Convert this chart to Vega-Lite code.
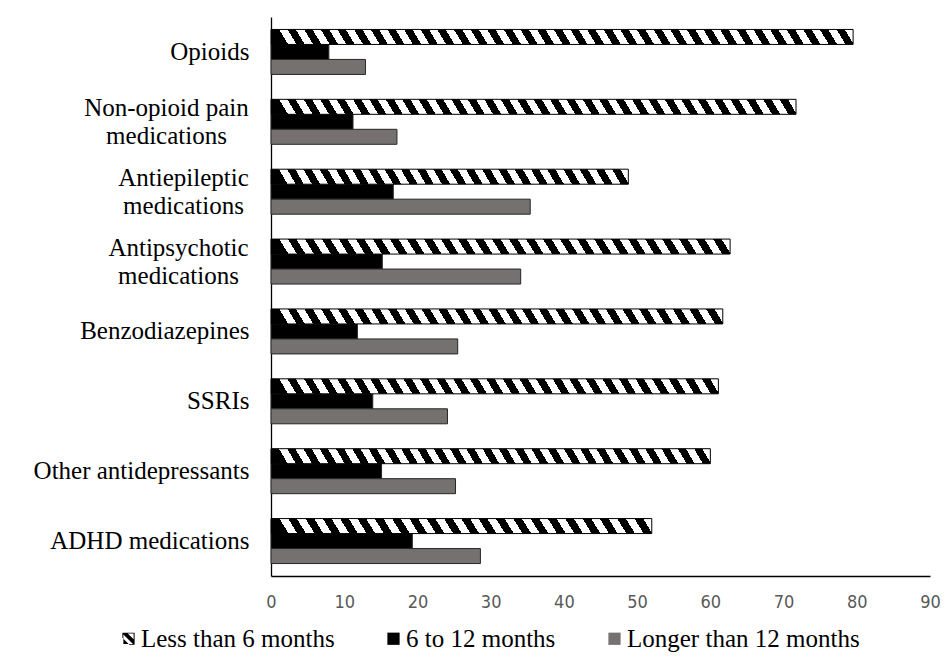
{
  "$schema": "https://vega.github.io/schema/vega-lite/v6.json",
  "width": 659,
  "height": 559,
  "autosize": {"type": "none"},
  "padding": {"left": 271, "top": 17, "right": 19, "bottom": 87},
  "background": "white",
  "config": {
    "view": {"stroke": null},
    "font": "Liberation Serif",
    "legend": {
      "orient": "none", "legendX": -155, "legendY": 609, "direction": "horizontal",
      "labelFont": "Liberation Serif", "labelFontSize": 25, "labelColor": "#000000",
      "symbolSize": 150, "symbolStrokeColor": "#000000", "symbolStrokeWidth": 0.6, "symbolOpacity": 1,
      "labelOffset": 0, "columnPadding": 46, "labelLimit": 400
    }
  },
  "data": {"values": [
    {"category": "Opioids", "period": "Less than 6 months", "value": 79.5},
    {"category": "Opioids", "period": "6 to 12 months", "value": 7.9},
    {"category": "Opioids", "period": "Longer than 12 months", "value": 12.9},
    {"category": "Non-opioid pain medications", "period": "Less than 6 months", "value": 71.7},
    {"category": "Non-opioid pain medications", "period": "6 to 12 months", "value": 11.2},
    {"category": "Non-opioid pain medications", "period": "Longer than 12 months", "value": 17.2},
    {"category": "Antiepileptic medications", "period": "Less than 6 months", "value": 48.8},
    {"category": "Antiepileptic medications", "period": "6 to 12 months", "value": 16.7},
    {"category": "Antiepileptic medications", "period": "Longer than 12 months", "value": 35.4},
    {"category": "Antipsychotic medications", "period": "Less than 6 months", "value": 62.7},
    {"category": "Antipsychotic medications", "period": "6 to 12 months", "value": 15.2},
    {"category": "Antipsychotic medications", "period": "Longer than 12 months", "value": 34.1},
    {"category": "Benzodiazepines", "period": "Less than 6 months", "value": 61.7},
    {"category": "Benzodiazepines", "period": "6 to 12 months", "value": 11.8},
    {"category": "Benzodiazepines", "period": "Longer than 12 months", "value": 25.5},
    {"category": "SSRIs", "period": "Less than 6 months", "value": 61.1},
    {"category": "SSRIs", "period": "6 to 12 months", "value": 13.9},
    {"category": "SSRIs", "period": "Longer than 12 months", "value": 24.1},
    {"category": "Other antidepressants", "period": "Less than 6 months", "value": 60.0},
    {"category": "Other antidepressants", "period": "6 to 12 months", "value": 15.1},
    {"category": "Other antidepressants", "period": "Longer than 12 months", "value": 25.2},
    {"category": "ADHD medications", "period": "Less than 6 months", "value": 52.0},
    {"category": "ADHD medications", "period": "6 to 12 months", "value": 19.3},
    {"category": "ADHD medications", "period": "Longer than 12 months", "value": 28.6}
  ]},
  "encoding": {
    "y": {
      "field": "category", "type": "nominal",
      "scale": {
        "domain": ["Opioids", "Non-opioid pain medications", "Antiepileptic medications", "Antipsychotic medications", "Benzodiazepines", "SSRIs", "Other antidepressants", "ADHD medications"],
        "paddingInner": 0.356, "paddingOuter": 0.178
      },
      "axis": {
        "title": null, "ticks": false, "grid": false,
        "domainColor": "#000000", "domainWidth": 1.3,
        "labelFont": "Liberation Serif", "labelFontSize": 25, "labelColor": "#000000",
        "labelLimit": 400, "labelLineHeight": 28,
        "labelAlign": {"condition": {"test": "indexof(['Non-opioid pain medications', 'Antiepileptic medications', 'Antipsychotic medications'], datum.value) >= 0", "value": "center"}, "value": "right"},
        "labelPadding": {"condition": [
          {"test": "datum.value == 'Non-opioid pain medications'", "value": 105},
          {"test": "datum.value == 'Antiepileptic medications'", "value": 88},
          {"test": "datum.value == 'Antipsychotic medications'", "value": 93}
        ], "value": 22},
        "labelOffset": {"condition": {"test": "indexof(['Non-opioid pain medications', 'Antiepileptic medications', 'Antipsychotic medications'], datum.value) >= 0", "value": -14}, "value": 0},
        "labelExpr": "datum.value == 'Non-opioid pain medications' ? ['Non-opioid pain', 'medications'] : datum.value == 'Antiepileptic medications' ? ['Antiepileptic', 'medications'] : datum.value == 'Antipsychotic medications' ? ['Antipsychotic', 'medications'] : datum.label"
      }
    },
    "yOffset": {
      "field": "period", "type": "nominal",
      "scale": {"domain": ["Less than 6 months", "6 to 12 months", "Longer than 12 months"], "paddingInner": 0, "paddingOuter": 0}
    },
    "x": {
      "field": "value", "type": "quantitative",
      "scale": {"domain": [0, 90], "nice": false},
      "axis": {
        "title": null, "values": [0, 10, 20, 30, 40, 50, 60, 70, 80, 90],
        "grid": false, "ticks": false, "labelFlush": false,
        "domainColor": "#000000", "domainWidth": 1.5,
        "labelFont": "Liberation Sans Narrow, DejaVu Sans Condensed, sans-serif",
        "labelFontSize": 18, "labelColor": "#595959", "labelPadding": 17
      }
    }
  },
  "layer": [
    {
      "transform": [{"filter": "datum.period != 'Less than 6 months'"}],
      "mark": {"type": "bar", "stroke": "#262626", "strokeWidth": 1},
      "encoding": {
        "fill": {
          "field": "period", "type": "nominal",
          "scale": {
            "domain": ["Less than 6 months", "6 to 12 months", "Longer than 12 months"],
            "range": ["#000000", "#000000", "#767171"]
          },
          "legend": {"title": null}
        }
      }
    },
    {
      "transform": [{"filter": "datum.period == 'Less than 6 months' && datum.category == 'Opioids'"}],
      "mark": {"type": "bar", "stroke": "#000000", "strokeWidth": 1, "fill": {"gradient": "linear", "x1": 0, "y1": 0.0155, "x2": 1, "y2": 0, "stops": [
        {"offset":0,"color":"#000"},{"offset":0.01429,"color":"#000"},{"offset":0.01429,"color":"#fff"},{"offset":0.02857,"color":"#fff"},
        {"offset":0.02857,"color":"#000"},{"offset":0.04286,"color":"#000"},{"offset":0.04286,"color":"#fff"},{"offset":0.05714,"color":"#fff"},
        {"offset":0.05714,"color":"#000"},{"offset":0.07143,"color":"#000"},{"offset":0.07143,"color":"#fff"},{"offset":0.08571,"color":"#fff"},
        {"offset":0.08571,"color":"#000"},{"offset":0.1,"color":"#000"},{"offset":0.1,"color":"#fff"},{"offset":0.11429,"color":"#fff"},
        {"offset":0.11429,"color":"#000"},{"offset":0.12857,"color":"#000"},{"offset":0.12857,"color":"#fff"},{"offset":0.14286,"color":"#fff"},
        {"offset":0.14286,"color":"#000"},{"offset":0.15714,"color":"#000"},{"offset":0.15714,"color":"#fff"},{"offset":0.17143,"color":"#fff"},
        {"offset":0.17143,"color":"#000"},{"offset":0.18571,"color":"#000"},{"offset":0.18571,"color":"#fff"},{"offset":0.2,"color":"#fff"},
        {"offset":0.2,"color":"#000"},{"offset":0.21429,"color":"#000"},{"offset":0.21429,"color":"#fff"},{"offset":0.22857,"color":"#fff"},
        {"offset":0.22857,"color":"#000"},{"offset":0.24286,"color":"#000"},{"offset":0.24286,"color":"#fff"},{"offset":0.25714,"color":"#fff"},
        {"offset":0.25714,"color":"#000"},{"offset":0.27143,"color":"#000"},{"offset":0.27143,"color":"#fff"},{"offset":0.28571,"color":"#fff"},
        {"offset":0.28571,"color":"#000"},{"offset":0.3,"color":"#000"},{"offset":0.3,"color":"#fff"},{"offset":0.31429,"color":"#fff"},
        {"offset":0.31429,"color":"#000"},{"offset":0.32857,"color":"#000"},{"offset":0.32857,"color":"#fff"},{"offset":0.34286,"color":"#fff"},
        {"offset":0.34286,"color":"#000"},{"offset":0.35714,"color":"#000"},{"offset":0.35714,"color":"#fff"},{"offset":0.37143,"color":"#fff"},
        {"offset":0.37143,"color":"#000"},{"offset":0.38571,"color":"#000"},{"offset":0.38571,"color":"#fff"},{"offset":0.4,"color":"#fff"},
        {"offset":0.4,"color":"#000"},{"offset":0.41429,"color":"#000"},{"offset":0.41429,"color":"#fff"},{"offset":0.42857,"color":"#fff"},
        {"offset":0.42857,"color":"#000"},{"offset":0.44286,"color":"#000"},{"offset":0.44286,"color":"#fff"},{"offset":0.45714,"color":"#fff"},
        {"offset":0.45714,"color":"#000"},{"offset":0.47143,"color":"#000"},{"offset":0.47143,"color":"#fff"},{"offset":0.48571,"color":"#fff"},
        {"offset":0.48571,"color":"#000"},{"offset":0.5,"color":"#000"},{"offset":0.5,"color":"#fff"},{"offset":0.51429,"color":"#fff"},
        {"offset":0.51429,"color":"#000"},{"offset":0.52857,"color":"#000"},{"offset":0.52857,"color":"#fff"},{"offset":0.54286,"color":"#fff"},
        {"offset":0.54286,"color":"#000"},{"offset":0.55714,"color":"#000"},{"offset":0.55714,"color":"#fff"},{"offset":0.57143,"color":"#fff"},
        {"offset":0.57143,"color":"#000"},{"offset":0.58571,"color":"#000"},{"offset":0.58571,"color":"#fff"},{"offset":0.6,"color":"#fff"},
        {"offset":0.6,"color":"#000"},{"offset":0.61429,"color":"#000"},{"offset":0.61429,"color":"#fff"},{"offset":0.62857,"color":"#fff"},
        {"offset":0.62857,"color":"#000"},{"offset":0.64286,"color":"#000"},{"offset":0.64286,"color":"#fff"},{"offset":0.65714,"color":"#fff"},
        {"offset":0.65714,"color":"#000"},{"offset":0.67143,"color":"#000"},{"offset":0.67143,"color":"#fff"},{"offset":0.68571,"color":"#fff"},
        {"offset":0.68571,"color":"#000"},{"offset":0.7,"color":"#000"},{"offset":0.7,"color":"#fff"},{"offset":0.71429,"color":"#fff"},
        {"offset":0.71429,"color":"#000"},{"offset":0.72857,"color":"#000"},{"offset":0.72857,"color":"#fff"},{"offset":0.74286,"color":"#fff"},
        {"offset":0.74286,"color":"#000"},{"offset":0.75714,"color":"#000"},{"offset":0.75714,"color":"#fff"},{"offset":0.77143,"color":"#fff"},
        {"offset":0.77143,"color":"#000"},{"offset":0.78571,"color":"#000"},{"offset":0.78571,"color":"#fff"},{"offset":0.8,"color":"#fff"},
        {"offset":0.8,"color":"#000"},{"offset":0.81429,"color":"#000"},{"offset":0.81429,"color":"#fff"},{"offset":0.82857,"color":"#fff"},
        {"offset":0.82857,"color":"#000"},{"offset":0.84286,"color":"#000"},{"offset":0.84286,"color":"#fff"},{"offset":0.85714,"color":"#fff"},
        {"offset":0.85714,"color":"#000"},{"offset":0.87143,"color":"#000"},{"offset":0.87143,"color":"#fff"},{"offset":0.88571,"color":"#fff"},
        {"offset":0.88571,"color":"#000"},{"offset":0.9,"color":"#000"},{"offset":0.9,"color":"#fff"},{"offset":0.91429,"color":"#fff"},
        {"offset":0.91429,"color":"#000"},{"offset":0.92857,"color":"#000"},{"offset":0.92857,"color":"#fff"},{"offset":0.94286,"color":"#fff"},
        {"offset":0.94286,"color":"#000"},{"offset":0.95714,"color":"#000"},{"offset":0.95714,"color":"#fff"},{"offset":0.97143,"color":"#fff"},
        {"offset":0.97143,"color":"#000"},{"offset":0.98571,"color":"#000"},{"offset":0.98571,"color":"#fff"},{"offset":1,"color":"#fff"}
      ]}}
    },
    {
      "transform": [{"filter": "datum.period == 'Less than 6 months' && datum.category == 'Non-opioid pain medications'"}],
      "mark": {"type": "bar", "stroke": "#000000", "strokeWidth": 1, "fill": {"gradient": "linear", "x1": 0, "y1": 0.0171, "x2": 1, "y2": 0, "stops": [
        {"offset":0,"color":"#000"},{"offset":0.015625,"color":"#000"},{"offset":0.015625,"color":"#fff"},{"offset":0.03125,"color":"#fff"},
        {"offset":0.03125,"color":"#000"},{"offset":0.046875,"color":"#000"},{"offset":0.046875,"color":"#fff"},{"offset":0.0625,"color":"#fff"},
        {"offset":0.0625,"color":"#000"},{"offset":0.078125,"color":"#000"},{"offset":0.078125,"color":"#fff"},{"offset":0.09375,"color":"#fff"},
        {"offset":0.09375,"color":"#000"},{"offset":0.109375,"color":"#000"},{"offset":0.109375,"color":"#fff"},{"offset":0.125,"color":"#fff"},
        {"offset":0.125,"color":"#000"},{"offset":0.140625,"color":"#000"},{"offset":0.140625,"color":"#fff"},{"offset":0.15625,"color":"#fff"},
        {"offset":0.15625,"color":"#000"},{"offset":0.171875,"color":"#000"},{"offset":0.171875,"color":"#fff"},{"offset":0.1875,"color":"#fff"},
        {"offset":0.1875,"color":"#000"},{"offset":0.203125,"color":"#000"},{"offset":0.203125,"color":"#fff"},{"offset":0.21875,"color":"#fff"},
        {"offset":0.21875,"color":"#000"},{"offset":0.234375,"color":"#000"},{"offset":0.234375,"color":"#fff"},{"offset":0.25,"color":"#fff"},
        {"offset":0.25,"color":"#000"},{"offset":0.265625,"color":"#000"},{"offset":0.265625,"color":"#fff"},{"offset":0.28125,"color":"#fff"},
        {"offset":0.28125,"color":"#000"},{"offset":0.296875,"color":"#000"},{"offset":0.296875,"color":"#fff"},{"offset":0.3125,"color":"#fff"},
        {"offset":0.3125,"color":"#000"},{"offset":0.328125,"color":"#000"},{"offset":0.328125,"color":"#fff"},{"offset":0.34375,"color":"#fff"},
        {"offset":0.34375,"color":"#000"},{"offset":0.359375,"color":"#000"},{"offset":0.359375,"color":"#fff"},{"offset":0.375,"color":"#fff"},
        {"offset":0.375,"color":"#000"},{"offset":0.390625,"color":"#000"},{"offset":0.390625,"color":"#fff"},{"offset":0.40625,"color":"#fff"},
        {"offset":0.40625,"color":"#000"},{"offset":0.421875,"color":"#000"},{"offset":0.421875,"color":"#fff"},{"offset":0.4375,"color":"#fff"},
        {"offset":0.4375,"color":"#000"},{"offset":0.453125,"color":"#000"},{"offset":0.453125,"color":"#fff"},{"offset":0.46875,"color":"#fff"},
        {"offset":0.46875,"color":"#000"},{"offset":0.484375,"color":"#000"},{"offset":0.484375,"color":"#fff"},{"offset":0.5,"color":"#fff"},
        {"offset":0.5,"color":"#000"},{"offset":0.515625,"color":"#000"},{"offset":0.515625,"color":"#fff"},{"offset":0.53125,"color":"#fff"},
        {"offset":0.53125,"color":"#000"},{"offset":0.546875,"color":"#000"},{"offset":0.546875,"color":"#fff"},{"offset":0.5625,"color":"#fff"},
        {"offset":0.5625,"color":"#000"},{"offset":0.578125,"color":"#000"},{"offset":0.578125,"color":"#fff"},{"offset":0.59375,"color":"#fff"},
        {"offset":0.59375,"color":"#000"},{"offset":0.609375,"color":"#000"},{"offset":0.609375,"color":"#fff"},{"offset":0.625,"color":"#fff"},
        {"offset":0.625,"color":"#000"},{"offset":0.640625,"color":"#000"},{"offset":0.640625,"color":"#fff"},{"offset":0.65625,"color":"#fff"},
        {"offset":0.65625,"color":"#000"},{"offset":0.671875,"color":"#000"},{"offset":0.671875,"color":"#fff"},{"offset":0.6875,"color":"#fff"},
        {"offset":0.6875,"color":"#000"},{"offset":0.703125,"color":"#000"},{"offset":0.703125,"color":"#fff"},{"offset":0.71875,"color":"#fff"},
        {"offset":0.71875,"color":"#000"},{"offset":0.734375,"color":"#000"},{"offset":0.734375,"color":"#fff"},{"offset":0.75,"color":"#fff"},
        {"offset":0.75,"color":"#000"},{"offset":0.765625,"color":"#000"},{"offset":0.765625,"color":"#fff"},{"offset":0.78125,"color":"#fff"},
        {"offset":0.78125,"color":"#000"},{"offset":0.796875,"color":"#000"},{"offset":0.796875,"color":"#fff"},{"offset":0.8125,"color":"#fff"},
        {"offset":0.8125,"color":"#000"},{"offset":0.828125,"color":"#000"},{"offset":0.828125,"color":"#fff"},{"offset":0.84375,"color":"#fff"},
        {"offset":0.84375,"color":"#000"},{"offset":0.859375,"color":"#000"},{"offset":0.859375,"color":"#fff"},{"offset":0.875,"color":"#fff"},
        {"offset":0.875,"color":"#000"},{"offset":0.890625,"color":"#000"},{"offset":0.890625,"color":"#fff"},{"offset":0.90625,"color":"#fff"},
        {"offset":0.90625,"color":"#000"},{"offset":0.921875,"color":"#000"},{"offset":0.921875,"color":"#fff"},{"offset":0.9375,"color":"#fff"},
        {"offset":0.9375,"color":"#000"},{"offset":0.953125,"color":"#000"},{"offset":0.953125,"color":"#fff"},{"offset":0.96875,"color":"#fff"},
        {"offset":0.96875,"color":"#000"},{"offset":0.984375,"color":"#000"},{"offset":0.984375,"color":"#fff"},{"offset":1,"color":"#fff"}
      ]}}
    },
    {
      "transform": [{"filter": {"and": [{"field": "period", "equal": "Less than 6 months"}, {"field": "category", "oneOf": ["Antipsychotic medications", "Benzodiazepines", "SSRIs", "Other antidepressants"]}]}}],
      "mark": {"type": "bar", "stroke": "#000000", "strokeWidth": 1, "fill": {"gradient": "linear", "x1": 0, "y1": 0.02, "x2": 1, "y2": 0, "stops": [
        {"offset":0,"color":"#000"},{"offset":0.01852,"color":"#000"},{"offset":0.01852,"color":"#fff"},{"offset":0.03704,"color":"#fff"},
        {"offset":0.03704,"color":"#000"},{"offset":0.05556,"color":"#000"},{"offset":0.05556,"color":"#fff"},{"offset":0.07407,"color":"#fff"},
        {"offset":0.07407,"color":"#000"},{"offset":0.09259,"color":"#000"},{"offset":0.09259,"color":"#fff"},{"offset":0.11111,"color":"#fff"},
        {"offset":0.11111,"color":"#000"},{"offset":0.12963,"color":"#000"},{"offset":0.12963,"color":"#fff"},{"offset":0.14815,"color":"#fff"},
        {"offset":0.14815,"color":"#000"},{"offset":0.16667,"color":"#000"},{"offset":0.16667,"color":"#fff"},{"offset":0.18519,"color":"#fff"},
        {"offset":0.18519,"color":"#000"},{"offset":0.2037,"color":"#000"},{"offset":0.2037,"color":"#fff"},{"offset":0.22222,"color":"#fff"},
        {"offset":0.22222,"color":"#000"},{"offset":0.24074,"color":"#000"},{"offset":0.24074,"color":"#fff"},{"offset":0.25926,"color":"#fff"},
        {"offset":0.25926,"color":"#000"},{"offset":0.27778,"color":"#000"},{"offset":0.27778,"color":"#fff"},{"offset":0.2963,"color":"#fff"},
        {"offset":0.2963,"color":"#000"},{"offset":0.31481,"color":"#000"},{"offset":0.31481,"color":"#fff"},{"offset":0.33333,"color":"#fff"},
        {"offset":0.33333,"color":"#000"},{"offset":0.35185,"color":"#000"},{"offset":0.35185,"color":"#fff"},{"offset":0.37037,"color":"#fff"},
        {"offset":0.37037,"color":"#000"},{"offset":0.38889,"color":"#000"},{"offset":0.38889,"color":"#fff"},{"offset":0.40741,"color":"#fff"},
        {"offset":0.40741,"color":"#000"},{"offset":0.42593,"color":"#000"},{"offset":0.42593,"color":"#fff"},{"offset":0.44444,"color":"#fff"},
        {"offset":0.44444,"color":"#000"},{"offset":0.46296,"color":"#000"},{"offset":0.46296,"color":"#fff"},{"offset":0.48148,"color":"#fff"},
        {"offset":0.48148,"color":"#000"},{"offset":0.5,"color":"#000"},{"offset":0.5,"color":"#fff"},{"offset":0.51852,"color":"#fff"},
        {"offset":0.51852,"color":"#000"},{"offset":0.53704,"color":"#000"},{"offset":0.53704,"color":"#fff"},{"offset":0.55556,"color":"#fff"},
        {"offset":0.55556,"color":"#000"},{"offset":0.57407,"color":"#000"},{"offset":0.57407,"color":"#fff"},{"offset":0.59259,"color":"#fff"},
        {"offset":0.59259,"color":"#000"},{"offset":0.61111,"color":"#000"},{"offset":0.61111,"color":"#fff"},{"offset":0.62963,"color":"#fff"},
        {"offset":0.62963,"color":"#000"},{"offset":0.64815,"color":"#000"},{"offset":0.64815,"color":"#fff"},{"offset":0.66667,"color":"#fff"},
        {"offset":0.66667,"color":"#000"},{"offset":0.68519,"color":"#000"},{"offset":0.68519,"color":"#fff"},{"offset":0.7037,"color":"#fff"},
        {"offset":0.7037,"color":"#000"},{"offset":0.72222,"color":"#000"},{"offset":0.72222,"color":"#fff"},{"offset":0.74074,"color":"#fff"},
        {"offset":0.74074,"color":"#000"},{"offset":0.75926,"color":"#000"},{"offset":0.75926,"color":"#fff"},{"offset":0.77778,"color":"#fff"},
        {"offset":0.77778,"color":"#000"},{"offset":0.7963,"color":"#000"},{"offset":0.7963,"color":"#fff"},{"offset":0.81481,"color":"#fff"},
        {"offset":0.81481,"color":"#000"},{"offset":0.83333,"color":"#000"},{"offset":0.83333,"color":"#fff"},{"offset":0.85185,"color":"#fff"},
        {"offset":0.85185,"color":"#000"},{"offset":0.87037,"color":"#000"},{"offset":0.87037,"color":"#fff"},{"offset":0.88889,"color":"#fff"},
        {"offset":0.88889,"color":"#000"},{"offset":0.90741,"color":"#000"},{"offset":0.90741,"color":"#fff"},{"offset":0.92593,"color":"#fff"},
        {"offset":0.92593,"color":"#000"},{"offset":0.94444,"color":"#000"},{"offset":0.94444,"color":"#fff"},{"offset":0.96296,"color":"#fff"},
        {"offset":0.96296,"color":"#000"},{"offset":0.98148,"color":"#000"},{"offset":0.98148,"color":"#fff"},{"offset":1,"color":"#fff"}
      ]}}
    },
    {
      "transform": [{"filter": {"and": [{"field": "period", "equal": "Less than 6 months"}, {"field": "category", "oneOf": ["Antiepileptic medications", "ADHD medications"]}]}}],
      "mark": {"type": "bar", "stroke": "#000000", "strokeWidth": 1, "fill": {"gradient": "linear", "x1": 0, "y1": 0.0244, "x2": 1, "y2": 0, "stops": [
        {"offset":0,"color":"#000"},{"offset":0.02273,"color":"#000"},{"offset":0.02273,"color":"#fff"},{"offset":0.04545,"color":"#fff"},
        {"offset":0.04545,"color":"#000"},{"offset":0.06818,"color":"#000"},{"offset":0.06818,"color":"#fff"},{"offset":0.09091,"color":"#fff"},
        {"offset":0.09091,"color":"#000"},{"offset":0.11364,"color":"#000"},{"offset":0.11364,"color":"#fff"},{"offset":0.13636,"color":"#fff"},
        {"offset":0.13636,"color":"#000"},{"offset":0.15909,"color":"#000"},{"offset":0.15909,"color":"#fff"},{"offset":0.18182,"color":"#fff"},
        {"offset":0.18182,"color":"#000"},{"offset":0.20455,"color":"#000"},{"offset":0.20455,"color":"#fff"},{"offset":0.22727,"color":"#fff"},
        {"offset":0.22727,"color":"#000"},{"offset":0.25,"color":"#000"},{"offset":0.25,"color":"#fff"},{"offset":0.27273,"color":"#fff"},
        {"offset":0.27273,"color":"#000"},{"offset":0.29545,"color":"#000"},{"offset":0.29545,"color":"#fff"},{"offset":0.31818,"color":"#fff"},
        {"offset":0.31818,"color":"#000"},{"offset":0.34091,"color":"#000"},{"offset":0.34091,"color":"#fff"},{"offset":0.36364,"color":"#fff"},
        {"offset":0.36364,"color":"#000"},{"offset":0.38636,"color":"#000"},{"offset":0.38636,"color":"#fff"},{"offset":0.40909,"color":"#fff"},
        {"offset":0.40909,"color":"#000"},{"offset":0.43182,"color":"#000"},{"offset":0.43182,"color":"#fff"},{"offset":0.45455,"color":"#fff"},
        {"offset":0.45455,"color":"#000"},{"offset":0.47727,"color":"#000"},{"offset":0.47727,"color":"#fff"},{"offset":0.5,"color":"#fff"},
        {"offset":0.5,"color":"#000"},{"offset":0.52273,"color":"#000"},{"offset":0.52273,"color":"#fff"},{"offset":0.54545,"color":"#fff"},
        {"offset":0.54545,"color":"#000"},{"offset":0.56818,"color":"#000"},{"offset":0.56818,"color":"#fff"},{"offset":0.59091,"color":"#fff"},
        {"offset":0.59091,"color":"#000"},{"offset":0.61364,"color":"#000"},{"offset":0.61364,"color":"#fff"},{"offset":0.63636,"color":"#fff"},
        {"offset":0.63636,"color":"#000"},{"offset":0.65909,"color":"#000"},{"offset":0.65909,"color":"#fff"},{"offset":0.68182,"color":"#fff"},
        {"offset":0.68182,"color":"#000"},{"offset":0.70455,"color":"#000"},{"offset":0.70455,"color":"#fff"},{"offset":0.72727,"color":"#fff"},
        {"offset":0.72727,"color":"#000"},{"offset":0.75,"color":"#000"},{"offset":0.75,"color":"#fff"},{"offset":0.77273,"color":"#fff"},
        {"offset":0.77273,"color":"#000"},{"offset":0.79545,"color":"#000"},{"offset":0.79545,"color":"#fff"},{"offset":0.81818,"color":"#fff"},
        {"offset":0.81818,"color":"#000"},{"offset":0.84091,"color":"#000"},{"offset":0.84091,"color":"#fff"},{"offset":0.86364,"color":"#fff"},
        {"offset":0.86364,"color":"#000"},{"offset":0.88636,"color":"#000"},{"offset":0.88636,"color":"#fff"},{"offset":0.90909,"color":"#fff"},
        {"offset":0.90909,"color":"#000"},{"offset":0.93182,"color":"#000"},{"offset":0.93182,"color":"#fff"},{"offset":0.95455,"color":"#fff"},
        {"offset":0.95455,"color":"#000"},{"offset":0.97727,"color":"#000"},{"offset":0.97727,"color":"#fff"},{"offset":1,"color":"#fff"}
      ]}}
    },
    {
      "transform": [{"filter": "datum.value < 0"}],
      "mark": {"type": "point", "filled": true, "opacity": 1},
      "encoding": {
        "fill": {
          "field": "period", "type": "nominal",
          "legend": {"title": null}
        },
        "shape": {
          "field": "period", "type": "nominal",
          "scale": {
            "domain": ["Less than 6 months", "6 to 12 months", "Longer than 12 months"],
            "range": [
              "M-1,-1L1,-1L1,1L-1,1ZM-0.84,-0.84L-0.84,0.84L0.84,0.84L0.84,-0.84ZM-1,-0.15L-1,1L0.15,1ZM-1,-1L-0.25,-1L1,0.25L1,1L0.85,1L-1,-0.85Z",
              "square", "square"
            ]
          },
          "legend": {"title": null}
        }
      }
    }
  ]
}
